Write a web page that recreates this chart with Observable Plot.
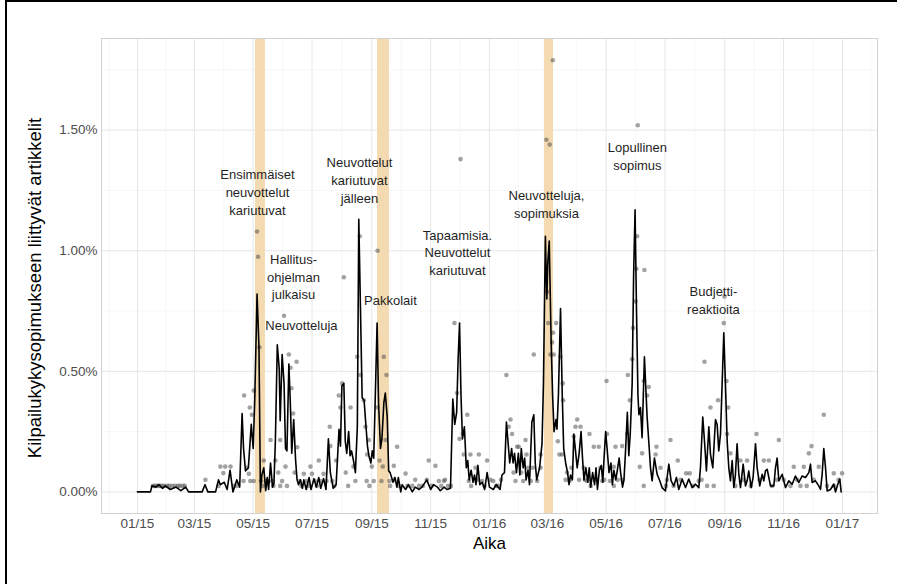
<!DOCTYPE html>
<html><head><meta charset="utf-8">
<script src="https://cdn.jsdelivr.net/npm/d3@7"></script>
<script src="https://cdn.jsdelivr.net/npm/@observablehq/plot@0.6"></script>
<style>
html,body{margin:0;padding:0;background:#fff;overflow:hidden;}
#wrap{position:relative;width:897px;height:584px;}
#frame{position:absolute;left:5px;top:0;width:892px;height:584px;border-left:2px solid #000;border-top:2px solid #000;box-sizing:border-box;pointer-events:none;}
</style></head><body><div id="wrap"><div id="chart"></div><div id="frame"></div></div>
<script>
// days since 2015-01-01, share of articles (%)
const lineSeries = [[0,0],[13.5,0],[15,0.025],[19,0.02],[22,0.03],[26,0.015],[29,0.025],[34,0.01],[40,0.02],[45,0.005],[50,0.02],[53,0],[67,0],[70,0.03],[73,0],[81,0],[84,0.05],[86,0.03],[90,0.04],[93,0.01],[96,0.09],[99,0],[103,0.05],[106,0.02],[108.5,0.325],[110,0.18],[112,0.087],[115,0.10],[118,0.28],[120,0.18],[121.6,0.38],[124,0.82],[126,0.60],[127.5,0],[129,0.07],[131,0.10],[133,0.005],[134.5,0.06],[136,0.01],[138,0.12],[140,0.02],[141.5,0.035],[143,0.21],[145,0.61],[147,0.51],[148,0.295],[150,0.57],[152,0.45],[153.5,0.18],[155,0.17],[157,0.53],[158.5,0.37],[160,0.16],[162,0.30],[164,0.13],[165.5,0.05],[167,0.03],[169,0.05],[171,0.015],[172.5,0.05],[175,0.01],[178,0.06],[180,0.01],[183,0.055],[185.5,0.02],[188,0.06],[190,0.015],[193,0.055],[195.5,0.01],[198,0.22],[200,0.08],[203,0.015],[206,0.03],[209,0.26],[210.5,0.19],[212,0.44],[214,0.45],[215.5,0.21],[217,0.16],[219,0.25],[220.5,0.15],[222,0.17],[224,0.13],[226,0.08],[228,0.27],[229.5,1.13],[232,0.6],[233,0.39],[235,0.38],[237,0.27],[238.5,0.19],[240,0.15],[242,0.12],[243.5,0.17],[245,0.14],[248.5,0.70],[250,0.37],[252,0.18],[253.5,0.22],[255.5,0.37],[257,0.41],[259,0.31],[260.5,0.087],[262,0.08],[265,0.04],[267,0.06],[269,0.02],[270.5,0.06],[273,0],[274.5,0.03],[278,0.01],[281,0.03],[285,0],[288,0.02],[292,0.01],[295,0.02],[300,0.05],[304,0.01],[307,0.03],[311,0.02],[314,0.005],[318,0.02],[321,0.01],[324.6,0.015],[327,0.385],[329,0.28],[331,0.33],[332.5,0.55],[334,0.70],[335.5,0.40],[337,0.22],[339,0.27],[341,0.10],[342.5,0.13],[344,0.05],[346,0.09],[348,0.04],[349.5,0.07],[351,0.03],[353,0.11],[355,0.03],[357.5,0.04],[360,0.01],[362.6,0.08],[365,0.02],[369,0.01],[372,0.03],[376,0.01],[378,0.07],[380.6,0.08],[382.6,0.29],[384,0.22],[386,0.12],[388,0.18],[389.5,0.12],[391,0.16],[393,0.08],[395,0.16],[396.5,0.07],[398,0.18],[400,0.10],[401.5,0.14],[403,0.05],[405,0.09],[406.5,0.03],[409,0.29],[411,0.32],[412.5,0.12],[414,0.05],[417,0.10],[419.5,0.20],[421,0.45],[423,1.06],[424.5,0.80],[425.5,0.95],[427,1.04],[429,0.62],[430.5,0.40],[432,0.25],[434,0.30],[435,0.26],[436.5,0.40],[438.7,0.76],[440.5,0.40],[442,0.18],[444,0.12],[446,0.08],[447.5,0.03],[449,0.07],[451,0.05],[452.5,0.24],[454.5,0.16],[456,0.10],[458,0.16],[460,0.25],[461.5,0.14],[463,0.05],[465,0.10],[467,0.04],[468.5,0.10],[470,0.02],[472,0.08],[474,0.03],[475.5,0.10],[477,0.01],[479,0.09],[481,0.11],[482.5,0.04],[484,0.15],[485.5,0.25],[487,0.18],[489,0.08],[491,0.12],[492.5,0.03],[494,0.09],[496,0.05],[498,0.10],[499.5,0.14],[501,0.08],[503,0.02],[504.5,0.05],[506,0.16],[508,0.33],[509.5,0.15],[511,0.24],[513,0.45],[514.5,0.9],[516,1.17],[517.5,0.75],[519,0.40],[520,0.32],[521.6,0.35],[523.3,0.225],[525.7,0.56],[528.5,0.31],[530.2,0.21],[532,0.10],[533.7,0.046],[536.1,0.14],[538.9,0.073],[541.6,0.046],[544,0.018],[547.5,0.004],[551,0.115],[553.4,0.046],[556.2,0.025],[558.9,0.06],[561.3,0.01],[564.8,0.053],[568.3,0.018],[571.7,0.053],[575.2,0.018],[578.6,0.032],[582.1,0.018],[583.8,0.10],[586.2,0.31],[588,0.21],[590,0.087],[592.5,0.27],[594.2,0.156],[596.6,0.10],[599.4,0.30],[601.1,0.28],[602.8,0.17],[604.6,0.24],[608,0.66],[609.7,0.45],[611.5,0.21],[613.2,0.10],[614.9,0.046],[616.7,0.13],[618.4,0.018],[620.1,0.073],[621.8,0.20],[623.6,0.073],[625.3,0.018],[628.1,0.115],[630.5,0.025],[632.2,0.046],[633.9,0.087],[636.4,0.018],[638.4,0.06],[640.9,0.20],[642.6,0.10],[645.3,0.025],[647.8,0.073],[649.5,0.046],[651.2,0.087],[653,0.094],[654.7,0.06],[656.4,0.025],[659.9,0.025],[661.6,0.10],[663.3,0.14],[665.1,0.046],[668.5,0.073],[672,0.018],[675.4,0.046],[678.9,0.032],[682.3,0.066],[685.8,0.039],[689.2,0.066],[692.7,0.06],[696.2,0.08],[697.9,0.115],[699.6,0.039],[703.1,0.046],[706.5,0.025],[708.3,0.01],[710,0.073],[711.7,0.18],[713.5,0.10],[715.2,0.004],[718.6,0.01],[722.1,0.032],[723.8,0.0],[726.2,0.032],[728.3,0.053],[729.7,0.0]];

const dailyPoints = [[16,0.025],[18,0.025],[20,0.025],[22,0.025],[24,0.025],[26,0.025],[28,0.025],[31,0.025],[33,0.025],[36,0.025],[39,0.025],[42,0.025],[44,0.025],[47,0.025],[49,0.025],
[70.5,0.05],[84,0.025],[86,0.105],[89,0.078],[91,0.105],[96.5,0.105],[100,0.025],[103,0.025],
[110,0.045],[110.6,0.40],[113.7,0.10],[115.5,0.075],[116.5,0.35],[117,0.045],[118.6,0.32],[120.6,0.42],[120.6,0.045],
[124,1.08],[125,0.975],[126.5,0.60],[128,0.045],[130,0.025],[133,0.045],[140,0.045],[141,0.025],[146,0.08],[150,0.045],[155,0.025],[163,0.08],
[131,0.13],[136,0.045],[138,0.215],[143,0.13],[148,0.215],[148,0.025],[152,0.73],[153.5,0.105],[157,0.57],[158.7,0.515],[159.7,0.43],[161.4,0.325],[165,0.54],[165.6,0.185],
[168,0.045],[170,0.025],[175,0.045],[177,0.025],[184,0.045],[186,0.025],[190,0.045],[196,0.045],[202,0.045],[204,0.025],[206,0.13],[216,0.08],[224,0.105],[226,0.045],[243,0.105],[245,0.045],[251,0.13],[253,0.045],
[172.5,0.075],[179.4,0.105],[181,0.075],[188,0.13],[193,0.075],[199.4,0.27],[200,0.19],
[208.8,0.40],[210.5,0.35],[212.3,0.45],[214,0.89],[218.5,0.025],[221,0.35],[227.8,0.56],[230.5,1.06],[231.3,0.485],[234.7,0.38],[236.4,0.27],[237.7,0.045],[238.2,0.155],[239.9,0.215],[240.5,0.025],
[248.5,0.35],[249,1.00],[254.4,0.105],[255.4,0.56],[257.3,0.215],[258.2,0.485],[261.3,0.045],
[262,0.025],[266,0.05],[271,0.025],[280,0.025],[288,0.05],[296,0.025],[300,0.05],[305,0.025],[315,0.025],[319,0.05],[325,0.025],
[265.8,0.108],[269.3,0.187],[278,0.076],[285,0.025],[292,0.025],[302,0.13],[309,0.108],[312.5,0.045],[317.7,0.045],[322,0.025],
[328.7,0.70],[331.5,0.41],[334,0.22],[335,1.38],[337.4,0.24],[338.4,0.155],[342,0.32],[343.6,0.045],[345.3,0.155],[350.5,0.10],[354,0.155],[357.4,0.045],[362.6,0.13],[369,0.045],[374,0.025],
[346,0.025],[352,0.05],[360,0.025],[366,0.05],[372,0.025],[377,0.05],[392,0.045],[398,0.08],[400,0.045],[405,0.1],[410,0.1],
[382.6,0.485],[385,0.27],[386.8,0.30],[388.5,0.24],[390,0.08],[393.7,0.187],[395.4,0.187],[397,0.13],[402.4,0.215],[403.4,0.155],[408,0.045],[411,0.57],[414.5,0.045],[418,0.155],[418,0.10],
[424,1.46],[425,0.83],[426,0.70],[427.5,1.44],[428.3,0.57],[430,0.62],[430.7,1.79],[431,0.66],[431.7,0.57],[434.2,0.70],[435.9,0.21],[437.6,0.155],[438.6,0.56],[440.3,0.155],[441,0.45],[441.4,0.38],[445.5,0.08],
[444,0.05],[448,0.045],[450,0.1],[458,0.05],[464,0.05],[470,0.025],[476,0.05],[480,0.1],[484,0.05],[498,0.05],[503,0.05],
[452.4,0.23],[454.2,0.27],[456,0.30],[459.4,0.27],[462.8,0.10],[466,0.045],[468.7,0.24],[473.2,0.187],[478.4,0.187],[482,0.045],[486.4,0.46],[487,0.24],[490,0.045],[494,0.025],[494,0.104],[495.7,0.187],[502.6,0.19],[507.8,0.24],
[508.5,0.485],[510.6,0.38],[513,0.55],[514,0.68],[516.4,0.79],[517.4,0.925],[518.1,1.06],[518.8,1.52],[520.9,0.104],[523.3,0.16],[525,0.46],[525,0.025],[525.7,0.92],[528.5,0.40],[530.2,0.435],[537.3,0.155],[538.2,0.187],[542.4,0.10],[549.2,0.05],[552.7,0.215],[560.3,0.13],[569,0.077],[572.7,0.077],[582.1,0.046],
[548,0.025],[556,0.025],[563,0.05],[576,0.025],[585,0.05],[620,0.025],[628,0.05],[636,0.025],[645,0.05],[658,0.025],[663,0.05],[684,0.05],[694,0.025],[715,0.025],[727,0.05],
[588,0.54],[590.7,0.025],[594.2,0.35],[597.6,0.025],[602.1,0.38],[608,0.70],[608.7,0.81],[610.8,0.46],[611.5,0.24],[612.5,0.35],[614.9,0.16],[625.3,0.13],[632.2,0.13],[641.9,0.24],[649.5,0.13],[654.7,0.13],[665.1,0.215],[670.2,0.05],[677.1,0.025],[680.6,0.104],[687.5,0.025],[691,0.104],[696.2,0.16],[699,0.19],[701.4,0.05],[706.5,0.104],[711.7,0.32],[722.1,0.077],[722.1,0.025],[730.7,0.077]];

// highlighted periods (days since 2015-01-01)
const bandStart = [122.4, 248.9, 422.0];
const bandEnd   = [132.7, 261.3, 431.4];

const annotations = [
  {label: "Ensimmäiset\nneuvottelut\nkariutuvat", d: 124.4, v: 1.245},
  {label: "Hallitus-\nohjelman\njulkaisu", d: 161.8, v: 0.896},
  {label: "Neuvotteluja", d: 170, v: 0.697},
  {label: "Neuvottelut\nkariutuvat\njälleen", d: 230.2, v: 1.295},
  {label: "Pakkolait", d: 262.3, v: 0.797},
  {label: "Tapaamisia.\nNeuvottelut\nkariutuvat", d: 331.8, v: 0.996},
  {label: "Neuvotteluja,\nsopimuksia", d: 424.1, v: 1.197},
  {label: "Lopullinen\nsopimus", d: 518.4, v: 1.394},
  {label: "Budjetti-\nreaktioita", d: 597.3, v: 0.797}
];

const yTicks = [0, 0.5, 1, 1.5];
const yMinor = [0.25, 0.75, 1.25, 1.75];
const xTicks = ["2015-01-01","2015-03-01","2015-05-01","2015-07-01","2015-09-01","2015-11-01","2016-01-01","2016-03-01","2016-05-01","2016-07-01","2016-09-01","2016-11-01","2017-01-01"].map(s => new Date(s + "T00:00:00Z"));

const origin = Date.UTC(2015, 0, 1);
const day = d => new Date(origin + d * 86400000);

const step = xTicks[1] - xTicks[0];
const xMinor = [new Date(+xTicks[0] - step / 2)];
for (let i = 0; i < xTicks.length - 1; i++) xMinor.push(new Date((+xTicks[i] + +xTicks[i + 1]) / 2));
xMinor.push(new Date(+xTicks[xTicks.length - 1] + 29.5 * 86400000));

const bands = bandStart.map((s, i) => ({x1: day(s), x2: day(bandEnd[i])}));

const font = "'Liberation Sans', Arial, Helvetica, sans-serif";

const chart = Plot.plot({
  width: 897,
  height: 584,
  marginLeft: 101,
  marginRight: 20,
  marginTop: 38,
  marginBottom: 71,
  style: {fontFamily: font, background: "#fff", overflow: "visible"},
  x: {type: "utc", domain: [day(-37.3), day(767.4)]},
  y: {domain: [-0.0895, 1.88]},
  marks: [
    Plot.ruleX(xMinor, {stroke: "#f2f2f2", strokeWidth: 0.6}),
    Plot.ruleY(yMinor, {stroke: "#f2f2f2", strokeWidth: 0.6}),
    Plot.ruleX(xTicks, {stroke: "#e6e6e6", strokeWidth: 1}),
    Plot.ruleY(yTicks, {stroke: "#e6e6e6", strokeWidth: 1}),
    Plot.rect(bands, {x1: "x1", x2: "x2", fill: "#f4dab0"}),
    Plot.dot(dailyPoints, {x: d => day(d[0]), y: d => d[1], r: 2.3, fill: "#555", fillOpacity: 0.55, stroke: null}),
    Plot.line(lineSeries, {x: d => day(d[0]), y: d => d[1], stroke: "#000", strokeWidth: 1.6}),
    Plot.text(annotations, {x: d => day(d.d), y: d => d.v, text: d => d.label, fontSize: 13, lineHeight: 1.38, fill: "#1f1f1f", textAnchor: "middle", lineAnchor: "middle"}),
    Plot.frame({stroke: "#d2d2d2", strokeWidth: 1}),
    Plot.axisX({ticks: xTicks, tickFormat: d3.utcFormat("%m/%y"), tickSize: 0, tickPadding: 5, label: null, fontSize: 13.5, fill: "#4d4d4d"}),
    Plot.axisY({ticks: yTicks, tickFormat: d => d.toFixed(2) + "%", tickSize: 0, tickPadding: 4, label: null, fontSize: 13.5, fill: "#4d4d4d"}),
    Plot.text(["Aika"], {text: d => d, frameAnchor: "bottom", dy: 30, fontSize: 17, fill: "#000", textAnchor: "middle", lineAnchor: "middle"}),
    Plot.text(["Kilpailukykysopimukseen liittyvät artikkelit"], {text: d => d, frameAnchor: "left", dx: -66, dy: 12, rotate: -90, fontSize: 18.5, fill: "#000", textAnchor: "middle", lineAnchor: "middle"})
  ]
});
document.getElementById("chart").appendChild(chart);
</script>
</body></html>
